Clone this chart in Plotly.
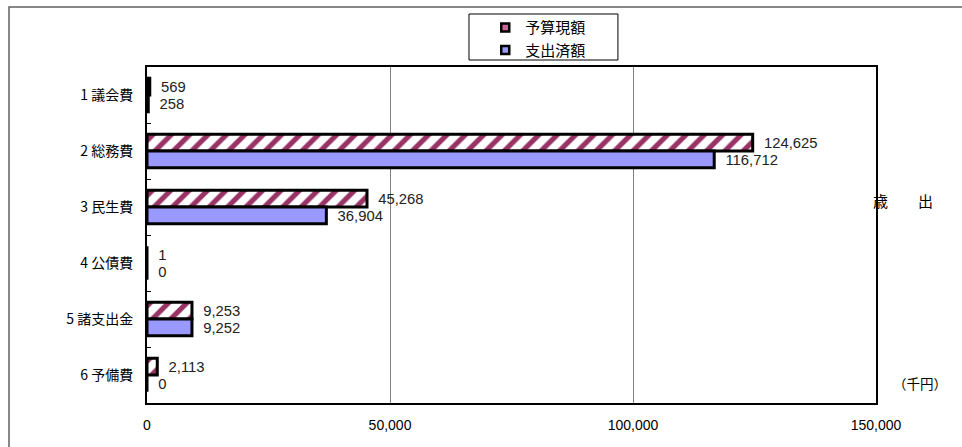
import plotly.graph_objects as go

categories = ["1 議会費", "2 総務費", "3 民生費", "4 公債費", "5 諸支出金", "6 予備費"]
budget = [569, 124625, 45268, 1, 9253, 2113]
spent = [258, 116712, 36904, 0, 9252, 0]
series_names = ["予算現額", "支出済額"]
x_ticks = [0, 50000, 100000, 150000]

JP = "Noto Sans CJK JP"
NUM = "Liberation Sans, Noto Sans CJK JP"
PAD = "\u00a0\u00a0"

fig = go.Figure()
fig.add_trace(go.Bar(
    y=categories, x=budget, orientation="h", name=series_names[0],
    marker=dict(color="white", line=dict(color="black", width=3),
                pattern=dict(shape="/", fgcolor="#993366", bgcolor="white",
                             size=13, solidity=0.4, fgopacity=1)),
    text=[PAD + f"{v:,}" for v in budget], textposition="outside",
    textfont=dict(family=NUM, size=15, color="#222"), cliponaxis=False,
    showlegend=False,
))
fig.add_trace(go.Bar(
    y=categories, x=spent, orientation="h", name=series_names[1],
    marker=dict(color="#9999FF", line=dict(color="black", width=3)),
    text=[PAD + f"{v:,}" for v in spent], textposition="outside",
    textfont=dict(family=NUM, size=15, color="#222"), cliponaxis=False,
    showlegend=False,
))
# legend swatches
fig.add_trace(go.Scatter(x=[None], y=[None], mode="markers", name=series_names[0],
                         marker=dict(symbol="square", size=8, color="#CC6699",
                                     line=dict(color="black", width=2.5))))
fig.add_trace(go.Scatter(x=[None], y=[None], mode="markers", name=series_names[1],
                         marker=dict(symbol="square", size=8, color="#9999FF",
                                     line=dict(color="black", width=2.5))))

fig.update_layout(
    width=962, height=447,
    margin=dict(l=147, r=86, t=67, b=44, autoexpand=False),
    paper_bgcolor="white", plot_bgcolor="white",
    barmode="group", bargap=0.4, bargroupgap=0.0,
    font=dict(family=JP, size=13, color="black"),
    legend=dict(x=0.464, y=1.166, xanchor="left", yanchor="top",
                borderwidth=0, bgcolor="rgba(0,0,0,0)",
                font=dict(family=JP, size=15), itemwidth=30,
                tracegroupgap=0),
    xaxis=dict(range=[0, 150000], tickvals=x_ticks, tickformat=",",
               showgrid=True, gridcolor="#808080", gridwidth=1,
               showline=True, linecolor="black", linewidth=2, mirror=True,
               zeroline=False, ticks="", tickfont=dict(family=NUM, size=14),
               ticklabelstandoff=8, fixedrange=True),
    yaxis=dict(autorange="reversed", showline=True, linecolor="black",
               linewidth=2, mirror=True, ticks="inside", ticklen=4,
               tickson="boundaries", tickcolor="black", showgrid=False,
               tickfont=dict(family=JP, size=14), ticklabelstandoff=9,
               fixedrange=True),
    annotations=[
        dict(text="歳　　出", xref="paper", yref="paper", x=1.037, y=0.604,
             showarrow=False, font=dict(family=JP, size=15), xanchor="center",
             yanchor="middle"),
        dict(text="（千円）", xref="paper", yref="paper", x=1.060, y=0.0595,
             showarrow=False, font=dict(family=JP, size=13.5), xanchor="center",
             yanchor="middle"),
    ],
    shapes=[
        dict(type="rect", xref="paper", yref="paper",
             x0=-0.1893, y0=-0.3, x1=1.3, y1=1.1786,
             line=dict(color="#606060", width=1.5), layer="below"),
        dict(type="rect", xref="paper", yref="paper",
             x0=0.4417, y0=1.0208, x1=0.646, y1=1.1577,
             line=dict(color="black", width=1), layer="below"),
    ],
)

fig.write_html("out.html", config={"displayModeBar": False},
               post_script="document.body.style.margin='0';document.body.style.overflow='hidden';")
